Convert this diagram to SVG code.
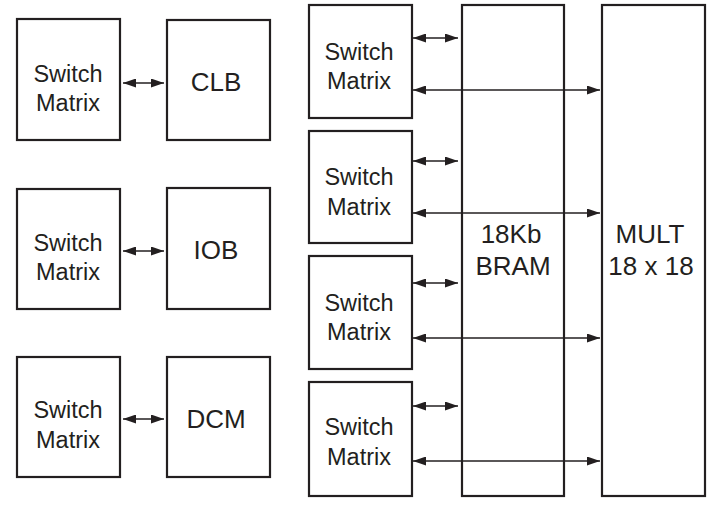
<svg xmlns="http://www.w3.org/2000/svg" width="712" height="508" viewBox="0 0 712 508">
<style>
.box{fill:#fff;stroke:#231f20;stroke-width:2.2}
.sm{font-family:"Liberation Sans",Arial,sans-serif;font-size:23.5px;fill:#231f20;text-anchor:middle}
.big{font-family:"Liberation Sans",Arial,sans-serif;font-size:26px;fill:#231f20;text-anchor:middle}
.con{stroke:#231f20;stroke-width:1.3;fill:none;marker-start:url(#ah);marker-end:url(#ah)}
</style>
<defs>
<marker id="ah" markerUnits="userSpaceOnUse" viewBox="0 0 13 9" markerWidth="13" markerHeight="9" refX="13" refY="4.5" orient="auto-start-reverse">
<path d="M0,0 L13,4.5 L0,9 Z" fill="#231f20"/>
</marker>
</defs>
<rect width="712" height="508" fill="#fff"/>
<g id="sm-clb"><rect class="box" x="17" y="19" width="103" height="121"/><text class="sm" x="68" y="82">Switch</text><text class="sm" x="68" y="111">Matrix</text></g>
<g id="clb"><rect class="box" x="167" y="20" width="103" height="120"/><text class="big" x="216" y="91">CLB</text></g>
<g id="sm-iob"><rect class="box" x="17" y="189" width="103" height="120"/><text class="sm" x="68" y="251">Switch</text><text class="sm" x="68" y="280">Matrix</text></g>
<g id="iob"><rect class="box" x="167" y="188" width="103" height="121"/><text class="big" x="216" y="259">IOB</text></g>
<g id="sm-dcm"><rect class="box" x="17" y="357" width="103" height="120"/><text class="sm" x="68" y="418">Switch</text><text class="sm" x="68" y="448">Matrix</text></g>
<g id="dcm"><rect class="box" x="167" y="357" width="103" height="120"/><text class="big" x="216" y="428">DCM</text></g>
<g id="bram"><rect class="box" x="462" y="5" width="102" height="491"/><text class="big" x="511" y="243">18Kb</text><text class="big" x="513" y="275">BRAM</text></g>
<g id="mult"><rect class="box" x="602" y="5" width="103" height="491"/><text class="big" x="650" y="243">MULT</text><text class="big" x="651" y="275">18 x 18</text></g>
<g id="sm1"><rect class="box" x="309" y="5" width="103" height="113"/><text class="sm" x="359" y="60">Switch</text><text class="sm" x="359" y="89">Matrix</text></g>
<g id="sm2"><rect class="box" x="309" y="131" width="103" height="112"/><text class="sm" x="359" y="185">Switch</text><text class="sm" x="359" y="215">Matrix</text></g>
<g id="sm3"><rect class="box" x="309" y="256" width="103" height="113"/><text class="sm" x="359" y="311">Switch</text><text class="sm" x="359" y="340">Matrix</text></g>
<g id="sm4"><rect class="box" x="309" y="382" width="103" height="114"/><text class="sm" x="359" y="435">Switch</text><text class="sm" x="359" y="465">Matrix</text></g>
<g id="connectors">
<path class="con" d="M123,83 H164"/>
<path class="con" d="M123,251 H164"/>
<path class="con" d="M123,419 H164"/>
<path class="con" d="M413,38 H458"/>
<path class="con" d="M413,90 H600"/>
<path class="con" d="M413,161 H458"/>
<path class="con" d="M413,213 H600"/>
<path class="con" d="M413,283 H458"/>
<path class="con" d="M413,338 H600"/>
<path class="con" d="M413,406 H458"/>
<path class="con" d="M413,461 H600"/>
</g>
</svg>
